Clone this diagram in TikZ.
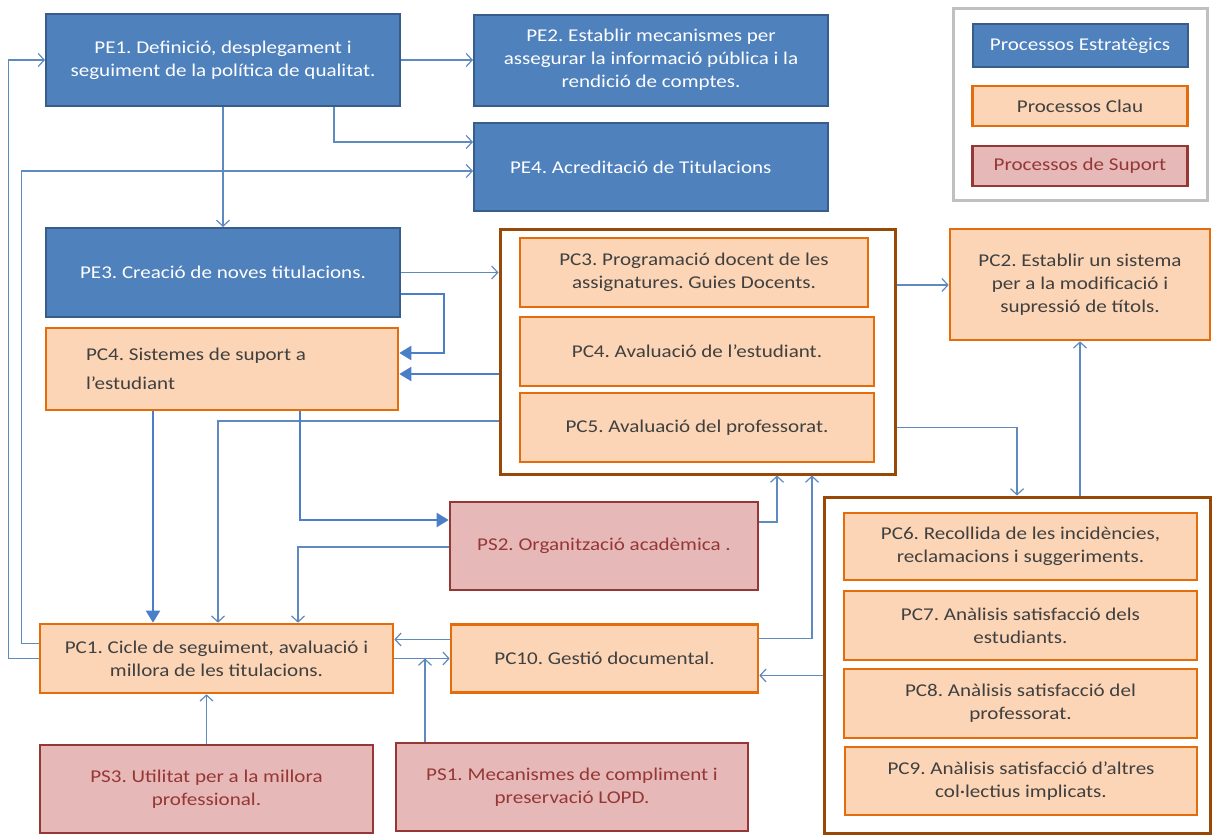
\documentclass[tikz,border=0pt]{standalone}
\usepackage{fontspec}
\setmainfont[FakeStretch=1.17]{Carlito}
\usetikzlibrary{arrows.meta,positioning,calc}
\definecolor{estr}{HTML}{4F81BD}
\definecolor{estrd}{HTML}{385D8A}
\definecolor{clau}{HTML}{FBD5B5}
\definecolor{claud}{HTML}{E46C0A}
\definecolor{supo}{HTML}{E6B9B8}
\definecolor{supod}{HTML}{953735}
\definecolor{frm}{HTML}{984807}
\definecolor{wire}{HTML}{5F8AC0}
\definecolor{wirek}{HTML}{4A7EC6}
\definecolor{ink}{HTML}{404040}
\definecolor{lgray}{HTML}{C0C0C0}
\frenchspacing
\tikzset{
  box/.style={align=center,inner sep=0pt,font=\fontsize{18}{23}\selectfont},
  boxe/.style={box,draw=estrd,fill=estr,line width=2pt,text=white},
  boxc/.style={box,draw=claud,fill=clau,line width=2.6pt,text=ink},
  boxs/.style={box,draw=supod,fill=supo,line width=2.6pt,text=supod},
  grp/.style={draw=frm,fill=white,line width=3pt,inner sep=0pt},
  arr/.style={-{Straight Barb[length=6pt,width=13pt]},line width=1.2pt,color=wire},
  arrk/.style={-{Triangle[length=12pt,width=14pt]},line width=2pt,color=wirek},
}
\begin{document}
\begin{tikzpicture}[x=1pt,y=-1pt]
\useasboundingbox (0,0) rectangle (1212,835);
% estrategics
\node[boxe,minimum width=354pt,minimum height=92pt] (pe1) at (223,60) {PE1. Definició, desplegament i\\seguiment de la política de qualitat.};
\node[boxe,minimum width=354pt,minimum height=91pt] (pe2) at (651,60) {PE2. Establir mecanismes per\\assegurar la informació pública i la\\rendició de comptes.};
\node[boxe,minimum height=88pt,text width=282pt,inner xsep=36pt,align=flush left] (pe4) at (651,167) {PE4. Acreditació de Titulacions\\[6pt]};
\node[boxe,minimum width=354pt,minimum height=89pt] (pe3) at (223,272.5) {PE3. Creació de noves titulacions.};
% legend
\node[draw=lgray,line width=3pt,minimum width=254pt,minimum height=192pt] (leg) at (1080,104) {};
\node[boxe,minimum width=215pt,minimum height=43pt] (lege) at (1080,45.5) {Processos Estratègics};
\node[boxc,minimum width=215pt,minimum height=40pt] (legc) at (1080,106) {Processos Clau};
\node[boxs,minimum width=215pt,minimum height=40pt] (legs) at (1080,166) {Processos de Suport};
% clau
\node[boxc,minimum height=82pt,text width=272pt,inner xsep=40pt,align=flush left,font=\fontsize{18}{29}\selectfont] (pc4s) at (222,369) {PC4. Sistemes de suport a\\l’estudiant};
\node[grp,minimum width=395pt,minimum height=245pt] (fa) at (697.5,351.5) {};
\node[boxc,minimum width=348pt,minimum height=69pt] (pc3) at (694,272.5) {PC3. Programació docent de les\\assignatures. Guies Docents.};
\node[boxc,minimum width=354pt,minimum height=69pt] (pc4e) at (697,351.5) {PC4. Avaluació de l’estudiant.};
\node[boxc,minimum width=354pt,minimum height=69pt] (pc5) at (697,427.5) {PC5. Avaluació del professorat.};
\node[boxc,minimum width=260pt,minimum height=111pt] (pc2) at (1080,284.5) {PC2. Establir un sistema\\per a la modificació i\\supressió de títols.};
\node[grp,minimum width=386pt,minimum height=336pt] (fb) at (1017,665) {};
\node[boxc,minimum width=353pt,minimum height=67pt] (pc6) at (1020.5,546.5) {PC6. Recollida de les incidències,\\reclamacions i suggeriments.};
\node[boxc,minimum width=353pt,minimum height=69pt] (pc7) at (1020.5,625.5) {PC7. Anàlisis satisfacció dels\\estudiants.};
\node[boxc,minimum width=353pt,minimum height=69pt] (pc8) at (1020.5,703.5) {PC8. Anàlisis satisfacció del\\professorat.};
\node[boxc,minimum width=352pt,minimum height=68pt] (pc9) at (1021,781) {PC9. Anàlisis satisfacció d’altres\\col·lectius implicats.};
\node[boxc,minimum width=353pt,minimum height=69pt] (pc1) at (216.5,658.5) {PC1. Cicle de seguiment, avaluació i\\millora de les titulacions.};
\node[boxc,minimum width=307pt,minimum height=68pt] (pc10) at (604.5,658.5) {PC10. Gestió documental.};
% suport
\node[boxs,minimum width=308pt,minimum height=88pt] (ps2) at (604,546) {PS2. Organització acadèmica .};
\node[boxs,minimum width=333pt,minimum height=88pt] (ps3) at (206.5,789) {PS3. Utilitat per a la millora\\professional.};
\node[boxs,minimum width=352pt,minimum height=88pt] (ps1) at (572,787) {PS1. Mecanismes de compliment i\\preservació LOPD.};
% connectors
\coordinate (k1) at ([yshift=-5pt]pc4s.east);
\coordinate (k2) at ([yshift=-69.5pt]fa.west);
\coordinate (k3) at ([xshift=-69pt]pc4s.south);
\coordinate (k4) at ([yshift=-17pt]pc10.east);
\coordinate (k5) at ([yshift=19pt]pc10.west);
\coordinate (k7) at ([xshift=-147pt]ps1.north);
\coordinate (k8) at ([yshift=66.5pt]fa.east);
\draw[arr] (pe1.east) -- (pe2.west);
\draw[arr] ([xshift=111pt]pe1.south) |- ([yshift=25pt]pe4.west);
\draw[arr] (pe1.south) -- (pe3.north);
\draw[arr] (pc1.west) -- ++(-30,0) |- (pe1.west);
\draw[arr] ([yshift=15pt]pc1.west) -- ++(-17,0) |- ([yshift=-4pt]pe4.west);
\draw[arr] (pe3.east) -- (pe3.east -| fa.west);
\draw[arrk] ([yshift=-21.5pt]pe3.east) -- ++(43,0) |- ([yshift=16pt]pc4s.east);
\draw[arrk] (k1 -| fa.west) -- (k1);
\draw[arr] (k2) -| ([xshift=1.5pt]pc1.north);
\draw[arrk] (k3) -- (k3 |- pc1.north);
\draw[arrk] ([xshift=78pt]pc4s.south) |- ([yshift=26pt]ps2.west);
\draw[arr] ([yshift=-1pt]ps2.west) -| ([xshift=81.5pt]pc1.north);
\draw[arr] ([yshift=24pt]ps2.east) -| ([xshift=79.5pt]fa.south);
\draw[arr] ([yshift=20pt]pc10.east) -| ([xshift=114.5pt]fa.south);
\draw[arr] (k4 -| fb.west) -- (k4);
\draw[arr] (k5) -- (k5 -| pc1.east);
\draw[arr] (pc1.east) -- (pc1.east -| pc10.west);
\draw[arr] (k7) -- (k7 |- pc1.east);
\draw[arr] (ps3.north) -- (ps3.north |- pc1.south);
\draw[arr] ([yshift=-76pt]fa.east) -| (fb.north);
\draw[arr] ([xshift=63pt]fb.north) -- (pc2.south);
\draw[arr] (k8) -- (k8 -| pc2.west);
\end{tikzpicture}
\end{document}
